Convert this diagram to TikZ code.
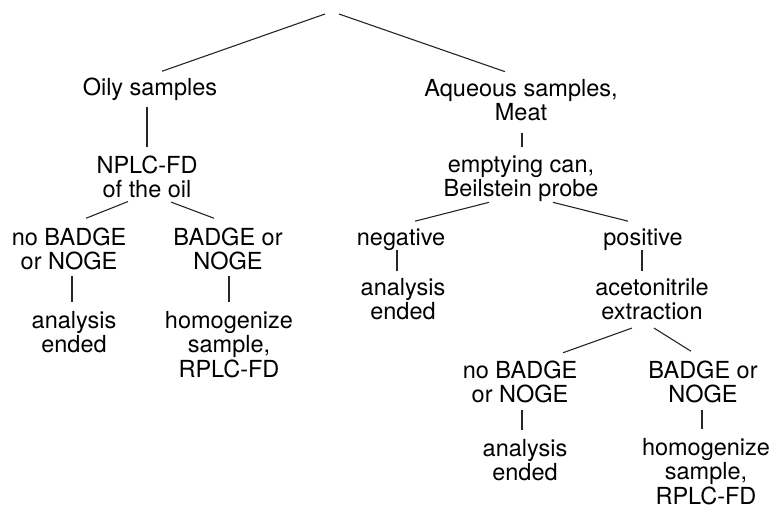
\documentclass[tikz,border=0pt]{standalone}
\usepackage{fontspec}
\setmainfont{TeX Gyre Heros}
\usetikzlibrary{calc}

\begin{document}
\begin{tikzpicture}[x=1pt, y=-1pt,
        box/.style={anchor=base, align=center, inner sep=0pt, font=\fontsize{23.5}{24.5}\selectfont},
        link/.style={line width=1.1pt, black!85}]
    \useasboundingbox (0,0) rectangle (771,509);
    \coordinate (rootL) at (325,14);
    \coordinate (rootR) at (339,14);
    \node[box] (oily) at (150,95) {Oily samples};
    \node[box] (aqueous) at (521,120.5) {Aqueous samples,\\Meat};
    \node[box] (nplc) at (147,197.5) {NPLC-FD\\of the oil};
    \node[box] (emptying) at (521,196.5) {emptying can,\\Beilstein probe};
    \node[box] (nobadge1) at (69,269.5) {no BADGE\\or NOGE};
    \node[box] (badge1) at (228,269.5) {BADGE or\\NOGE};
    \node[box] (negative) at (401,245) {negative};
    \node[box] (positive) at (643,245) {positive};
    \node[box] (ended1) at (74,352.5) {analysis\\ended};
    \node[box] (homog1) at (229,377) {homogenize\\sample,\\RPLC-FD};
    \node[box] (ended2) at (403,319.5) {analysis\\ended};
    \node[box] (aceto) at (652,319.5) {acetonitrile\\extraction};
    \node[box] (nobadge2) at (520,402.5) {no BADGE\\or NOGE};
    \node[box] (badge2) at (703,402.5) {BADGE or\\NOGE};
    \node[box] (ended3) at (525,480.5) {analysis\\ended};
    \node[box] (homog2) at (706,504) {homogenize\\sample,\\RPLC-FD};
    \draw[link] (rootL) -- ([xshift=12pt,yshift=6pt]oily.north);
    \draw[link] (rootR) -- ([xshift=-16pt,yshift=7pt]aqueous.north);
    \draw[link] ([xshift=-3pt,yshift=-7pt]oily.south) -- ([yshift=8pt]nplc.north);
    \draw[link] ([xshift=1pt,yshift=-12pt]aqueous.south) -- ([xshift=1pt,yshift=8pt]emptying.north);
    \draw[link] ([xshift=-19pt,yshift=-3.5pt]nplc.south) -- ([xshift=17pt,yshift=9pt]nobadge1.north);
    \draw[link] ([xshift=24pt,yshift=-4pt]nplc.south) -- ([xshift=-14pt,yshift=9pt]badge1.north);
    \draw[link] ([xshift=3pt,yshift=-6pt]nobadge1.south) -- ([xshift=-2pt,yshift=9pt]ended1.north);
    \draw[link] ([xshift=1pt,yshift=-6pt]badge1.south) -- ([yshift=9pt]homog1.north);
    \draw[link] ([xshift=-32pt,yshift=-0.5pt]emptying.south) -- ([xshift=14pt,yshift=7pt]negative.north);
    \draw[link] ([xshift=32pt,yshift=-0.5pt]emptying.south) -- ([xshift=-15pt,yshift=7pt]positive.north);
    \draw[link] ([xshift=-4pt]negative.south) -- ([xshift=-6pt,yshift=7pt]ended2.north);
    \draw[link] ([xshift=-1pt]positive.south) -- ([xshift=-10pt,yshift=7pt]aceto.north);
    \draw[link] ([xshift=-20pt,yshift=-8pt]aceto.south) -- ([xshift=43pt,yshift=7.5pt]nobadge2.north);
    \draw[link] ([xshift=2pt,yshift=-8pt]aceto.south) -- ([xshift=-12pt,yshift=9pt]badge2.north);
    \draw[link] ([xshift=2pt,yshift=-6.5pt]nobadge2.south) -- ([xshift=-3pt,yshift=9pt]ended3.north);
    \draw[link] ([xshift=-1pt,yshift=-6.5pt]badge2.south) -- ([xshift=-4pt,yshift=9pt]homog2.north);
\end{tikzpicture}
\end{document}
